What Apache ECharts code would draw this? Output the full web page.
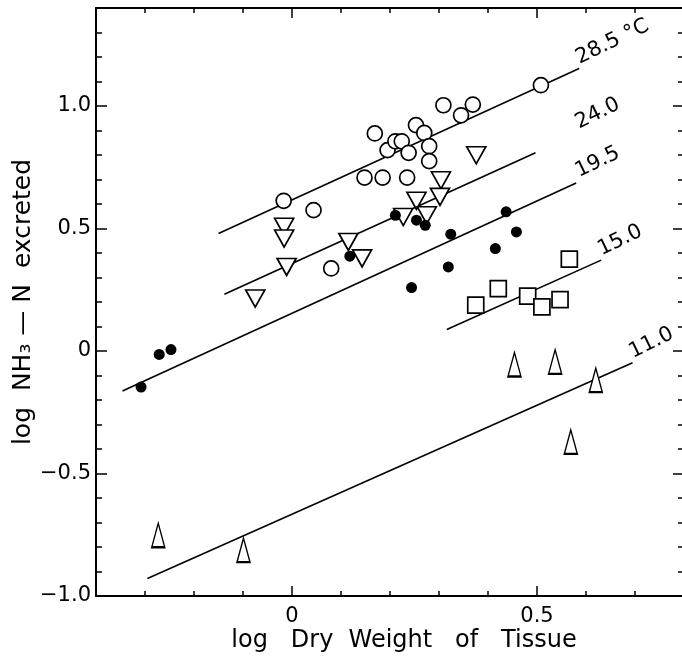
<!DOCTYPE html>
<html>
<head>
<meta charset="utf-8">
<script src="https://cdn.jsdelivr.net/npm/echarts@6/dist/echarts.min.js"></script>
<style>
  html, body { margin: 0; padding: 0; background: #fff; }
  #chart { width: 682px; height: 657px; }
</style>
</head>
<body>
<div id="chart"></div>
<script>
// Ammonia excretion vs dry tissue weight (both log10), grouped by temperature.

// 28.5 °C — open circles
const open285 = [
  [-0.017, 0.613], [0.044, 0.575], [0.080, 0.337], [0.148, 0.708], [0.185, 0.708],
  [0.235, 0.708], [0.169, 0.888], [0.195, 0.820], [0.211, 0.856], [0.224, 0.856],
  [0.238, 0.809], [0.253, 0.922], [0.270, 0.890], [0.280, 0.836], [0.280, 0.775],
  [0.309, 1.003], [0.345, 0.962], [0.369, 1.006], [0.508, 1.085]
];
// 24.0 °C — open inverted triangles
const down240 = [
  [-0.016, 0.507], [-0.016, 0.459], [-0.011, 0.343], [-0.075, 0.214], [0.115, 0.445],
  [0.143, 0.378], [0.254, 0.613], [0.227, 0.547], [0.275, 0.554], [0.304, 0.697],
  [0.302, 0.629], [0.376, 0.799]
];
// 19.5 °C — filled dots
const dot195 = [
  [-0.308, -0.147], [-0.271, -0.014], [-0.247, 0.006], [0.118, 0.387], [0.211, 0.554],
  [0.254, 0.534], [0.272, 0.513], [0.244, 0.259], [0.324, 0.477], [0.319, 0.343],
  [0.415, 0.418], [0.437, 0.568], [0.458, 0.486]
];
// 15.0 °C — open squares
const square150 = [
  [0.375, 0.187], [0.421, 0.255], [0.481, 0.224], [0.510, 0.180], [0.547, 0.210],
  [0.566, 0.375]
];
// 11.0 °C — open upright triangles
const up110 = [
  [-0.273, -0.752], [-0.099, -0.813], [0.454, -0.055], [0.537, -0.044], [0.620, -0.119],
  [0.569, -0.371]
];

// Fitted regression lines, one per temperature
const fitNames = ['28.5 °C', '24.0', '19.5', '15.0', '11.0'];
const fitStart = [[-0.150, 0.480], [-0.138, 0.232], [-0.346, -0.163], [0.316, 0.088], [-0.295, -0.929]];
const fitEnd   = [[0.586, 1.153], [0.497, 0.809], [0.580, 0.686], [0.631, 0.371], [0.695, -0.048]];

// Axis ticks and labels
const xTicks = [-0.3, -0.2, -0.1, 0, 0.1, 0.2, 0.3, 0.4, 0.5, 0.6, 0.7];
const xMajor = [0, 0.5];
const yTicks = [-0.9, -0.8, -0.7, -0.6, -0.5, -0.4, -0.3, -0.2, -0.1, 0, 0.1, 0.2, 0.3,
                0.4, 0.5, 0.6, 0.7, 0.8, 0.9, 1.0, 1.1, 1.2, 1.3];
const yMajor = [-1.0, -0.5, 0, 0.5, 1.0];

const FONT = '"DejaVu Sans", "Liberation Sans", sans-serif';
const INK = '#000';

function tickText(v) {
  if (Math.abs(v) < 1e-9) return '0';
  return (v < 0 ? '\u2212' : '') + Math.abs(v).toFixed(1);
}

function frameAxis(pos, min, max, ticks, len, showLine, labels) {
  return {
    type: 'value',
    position: pos,
    min: min,
    max: max,
    axisLine: { show: showLine, onZero: false, lineStyle: { color: INK, width: 2 } },
    axisTick: { show: true, inside: true, length: len, customValues: ticks,
                lineStyle: { color: INK, width: 1.5 } },
    axisLabel: labels ? {
      show: true, customValues: labels, formatter: tickText,
      color: INK, fontFamily: FONT, fontSize: 21,
      margin: (pos === 'bottom') ? 10 : 5
    } : { show: false },
    splitLine: { show: false }
  };
}

// label anchors sit on each fitted line, no further left than x = 0.585
const tagPoints = fitEnd.map(function (p, i) {
  const s = fitStart[i];
  const x = Math.max(p[0], 0.585);
  const slope = (p[1] - s[1]) / (p[0] - s[0]);
  return { value: [x, p[1] + slope * (x - p[0])], name: fitNames[i] };
});

const openStyle = { color: '#fff', borderColor: INK, borderWidth: 1.7, opacity: 1 };

const chart = echarts.init(document.getElementById('chart'), null, { renderer: 'canvas' });
chart.setOption({
  animation: false,
  backgroundColor: '#fff',
  grid: { left: 96, top: 8, width: 588, height: 588, show: false, outerBoundsMode: 'none' },
  xAxis: [
    frameAxis('bottom', -0.4, 0.8, xTicks, 5, true, xMajor),
    frameAxis('bottom', -0.4, 0.8, xMajor, 10, false, null),
    frameAxis('top', -0.4, 0.8, xTicks, 5, true, null),
    frameAxis('top', -0.4, 0.8, xMajor, 10, false, null)
  ],
  yAxis: [
    frameAxis('left', -1.0, 1.4, yTicks, 6, true, yMajor),
    frameAxis('left', -1.0, 1.4, yMajor, 11, false, null),
    frameAxis('right', -1.0, 1.4, yTicks, 6, true, null),
    frameAxis('right', -1.0, 1.4, yMajor, 11, false, null)
  ],
  graphic: [
    {
      type: 'text', x: 404, y: 641, silent: true,
      style: { text: 'log   Dry  Weight   of   Tissue', fill: INK, fontFamily: FONT,
               fontSize: 24, align: 'center', verticalAlign: 'middle' }
    },
    {
      type: 'text', x: 23, y: 302, rotation: Math.PI / 2, silent: true,
      style: { text: 'log  NH\u2083 \u2014 N  excreted', fill: INK, fontFamily: FONT,
               fontSize: 25, align: 'center', verticalAlign: 'middle' }
    }
  ],
  series: fitNames.map(function (n, i) {
    return {
      name: 'fit ' + n, type: 'line', z: 2, silent: true,
      data: [fitStart[i], fitEnd[i]],
      showSymbol: false, symbol: 'none',
      lineStyle: { color: INK, width: 1.6 }
    };
  }).concat([
    {
      name: 'tags', type: 'scatter', z: 3, silent: true,
      data: tagPoints, symbolSize: 1,
      itemStyle: { color: 'rgba(0,0,0,0)', opacity: 1 },
      label: {
        show: true, position: 'right', distance: 2, rotate: 26,
        align: 'left', verticalAlign: 'bottom',
        formatter: function (p) { return p.name; },
        color: INK, fontFamily: FONT, fontSize: 21
      }
    },
    { name: '28.5', type: 'scatter', z: 5, data: open285, symbol: 'circle',
      symbolSize: 15, itemStyle: openStyle },
    { name: '24.0', type: 'scatter', z: 5, data: down240, symbol: 'triangle',
      symbolRotate: 180, symbolSize: [19, 17], itemStyle: openStyle },
    { name: '19.5', type: 'scatter', z: 5, data: dot195, symbol: 'circle',
      symbolSize: 11, itemStyle: { color: INK, opacity: 1 } },
    { name: '15.0', type: 'scatter', z: 5, data: square150, symbol: 'rect',
      symbolSize: 16, itemStyle: openStyle },
    { name: '11.0', type: 'scatter', z: 5, data: up110, symbol: 'triangle',
      symbolSize: [13, 24], itemStyle: openStyle }
  ])
});
</script>
</body>
</html>
